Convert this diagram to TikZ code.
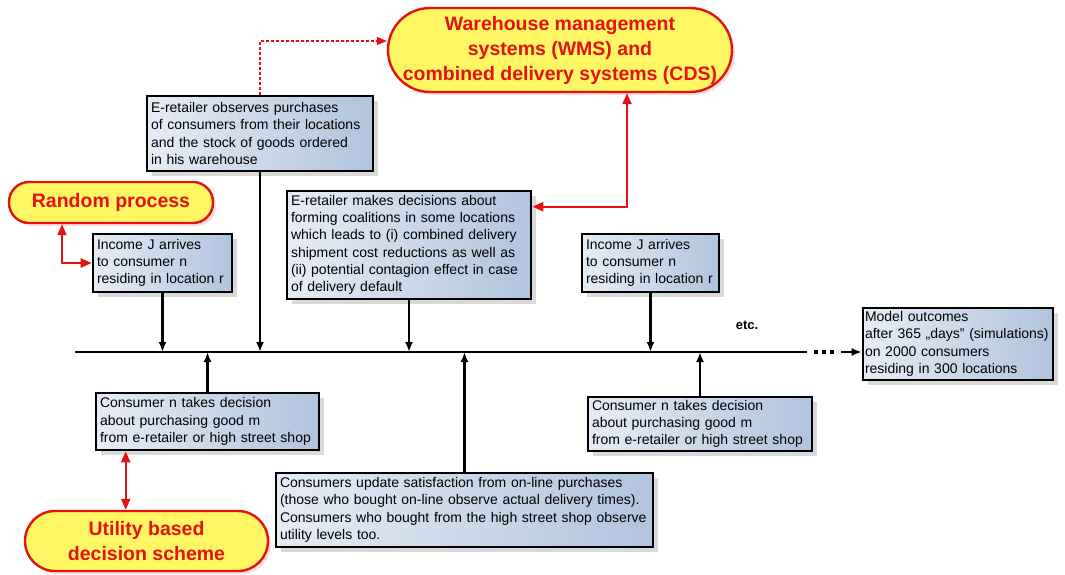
\documentclass[tikz,border=0pt]{standalone}
\usepackage{fontspec}
\setmainfont{Liberation Sans}
\usetikzlibrary{arrows.meta,shadows,calc}
\definecolor{boxL}{RGB}{230,236,245}
\definecolor{boxR}{RGB}{176,196,221}
\definecolor{ellY}{RGB}{255,246,100}
\definecolor{ellR}{RGB}{228,18,18}
\begin{document}
\begin{tikzpicture}[x=1pt,y=-1pt,
  bx/.style={draw=black, line width=2.6pt, left color=boxL, right color=boxR, align=left,
    inner xsep=3pt, inner ysep=2pt, font=\fontsize{14}{17.3}\selectfont,
    drop shadow={shadow xshift=5pt, shadow yshift=-5pt, fill=black, opacity=0.15}},
  ell/.style={draw=ellR, line width=2.4pt, fill=ellY, align=center, text=ellR,
    font=\bfseries\fontsize{19.5}{25}\selectfont,
    drop shadow={shadow xshift=3pt, shadow yshift=-3pt, fill=ellR, opacity=0.15}},
  tl/.style={line width=2.2pt, -{Latex[length=10pt,width=8pt]}},
  rd/.style={draw=ellR, line width=2.2pt},
  rtip/.style={{Triangle[length=11pt,width=9pt]}-{Triangle[length=11pt,width=9pt]}},
  rtipe/.style={-{Triangle[length=10pt,width=8pt]}}
]
\useasboundingbox (0,0) rectangle (1065,574);

% rounded ellipses
\node[ell, rounded corners=42pt, minimum width=344pt, minimum height=84pt] (W) at (560,50)
  {Warehouse management\\systems (WMS) and\\combined delivery systems (CDS)};
\node[ell, rounded corners=20pt, minimum width=204pt, minimum height=41pt] (R) at (111,202.5)
  {Random process};
\node[ell, rounded corners=30pt, minimum width=243pt, minimum height=60pt] (U) at (146.5,541)
  {Utility based\\decision scheme};

% boxes
\node[bx, minimum width=226pt, minimum height=75pt, text width=218pt] (A) at (260,133.5)
  {E-retailer observes purchases\\of consumers from their locations\\and the stock of goods ordered\\in his warehouse};
\node[bx, minimum width=139pt, minimum height=58pt, text width=131pt] (B) at (162.5,263)
  {Income J arrives\\to consumer n\\residing in location r};
\node[bx, minimum width=244pt, minimum height=108pt, text width=236pt] (C) at (409,245)
  {E-retailer makes decisions about\\forming coalitions in some locations\\which leads to (i) combined delivery\\shipment cost reductions as well as\\(ii) potential contagion effect in case\\of delivery default};
\node[bx, minimum width=137pt, minimum height=58pt, text width=129pt] (D) at (650.5,263)
  {Income J arrives\\to consumer n\\residing in location r};
\node[bx, minimum width=190pt, minimum height=72pt, text width=186pt, inner xsep=1pt] (E) at (958,344)
  {Model outcomes\\after 365 „days" (simulations)\\on 2000 consumers\\residing in 300 locations};
\node[bx, minimum width=223pt, minimum height=57pt, text width=215pt] (F) at (207.5,421.5)
  {Consumer n takes decision\\about purchasing good m\\from e-retailer or high street shop};
\node[bx, minimum width=377pt, minimum height=74pt, text width=369pt] (G) at (464.5,510)
  {Consumers update satisfaction from on-line purchases\\(those who bought on-line observe actual delivery times).\\Consumers who bought from the high street shop observe\\utility levels too.};
\node[bx, minimum width=224pt, minimum height=54pt, text width=216pt] (H) at (700,424)
  {Consumer n takes decision\\about purchasing good m\\from e-retailer or high street shop};

\node[font=\bfseries\fontsize{13}{15}\selectfont] (etc) at (747,325) {etc.};

% timeline
\coordinate (t0) at (75,352);
\coordinate (t1) at (807,352);
\coordinate (d0) at (814,352);
\coordinate (d1) at (838,352);
\coordinate (a0) at (841,352);
\draw[line width=2.4pt] (t0) -- (t1);
\draw[line width=3.2pt, dash pattern=on 4pt off 4pt] (d0) -- (d1);
\draw[line width=2.2pt, -{Latex[length=10pt,width=8pt]}] (a0) -- (a0 -| E.west);

% black connectors to timeline
\draw[tl] (B.south) -- (B.south |- t0);
\draw[tl] (A.south) -- (A.south |- t0);
\draw[tl] (C.south) -- (C.south |- t0);
\draw[tl] (D.south) -- (D.south |- t0);
\draw[tl] (F.north) -- (F.north |- t0);
\draw[tl] (G.north) -- (G.north |- t0);
\draw[tl] (H.north) -- (H.north |- t0);

% red connectors
\coordinate (r0) at ($(R.south)+(-49,0)$);
\draw[rd, rtip] (r0) |- (B.west);
\coordinate (w0) at ($(W.south)+(67,0)$);
\coordinate (c0) at ($(C.north east)+(0,17)$);
\draw[rd, rtip] (w0) |- (c0);
\coordinate (dj) at (260,41);
\draw[rd, rtipe, line width=1.3pt, dash pattern=on 3pt off 2pt] (A.north) -- (dj) -- (dj -| W.west);
\coordinate (u0) at ($(F.south west)+(31,0)$);
\draw[rd, rtip] (u0) -- (u0 |- U.north);
\end{tikzpicture}
\end{document}
